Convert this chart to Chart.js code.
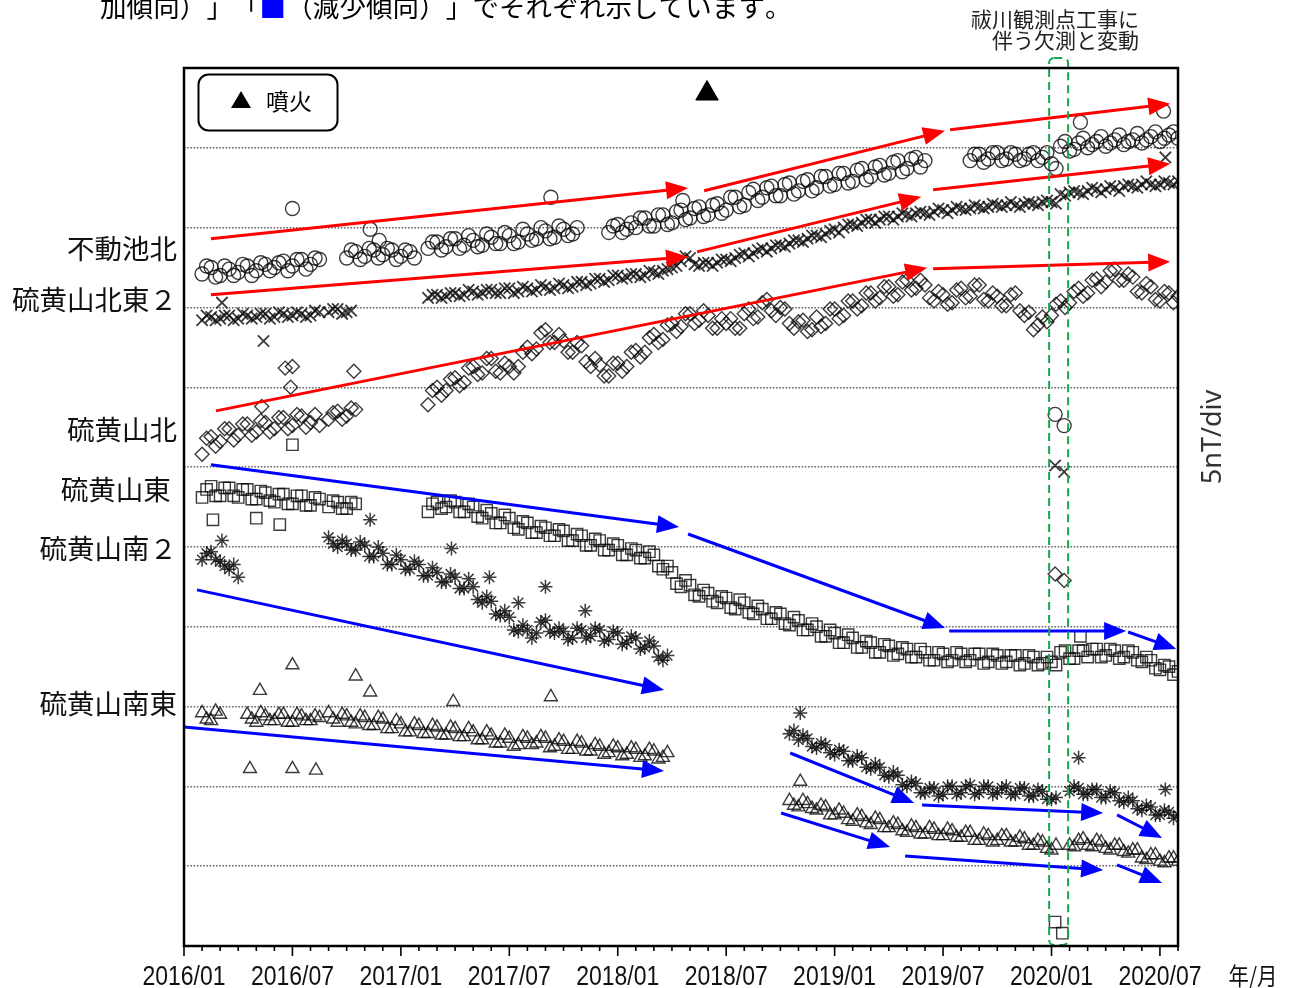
<!DOCTYPE html>
<html lang="ja">
<head>
<meta charset="utf-8">
<title>全磁力変化</title>
<script src="https://cdn.jsdelivr.net/npm/chart.js@4.4.1/dist/chart.umd.min.js"></script>
<style>
  html, body { margin: 0; padding: 0; background: #fff; }
  canvas { display: block; }
</style>
</head>
<body>
<canvas id="chart" width="1292" height="988" style="width:1292px;height:988px"></canvas>
<script>
// x = months since 2016/01, y = total field in nT (5 nT per grid division)
// two sampling grids: on the half month (A) and on the quarter in between (B)
const months = [
  0, 0.5, 1, 1.5, 2, 2.5, 3, 3.5, 4, 4.5,
  5, 5.5, 6, 6.5, 7, 7.5, 8, 8.5, 9, 9.5,
  10, 10.5, 11, 11.5, 12, 12.5, 13, 13.5, 14, 14.5,
  15, 15.5, 16, 16.5, 17, 17.5, 18, 18.5, 19, 19.5,
  20, 20.5, 21, 21.5, 22, 22.5, 23, 23.5, 24, 24.5,
  25, 25.5, 26, 26.5, 27, 27.5, 28, 28.5, 29, 29.5,
  30, 30.5, 31, 31.5, 32, 32.5, 33, 33.5, 34, 34.5,
  35, 35.5, 36, 36.5, 37, 37.5, 38, 38.5, 39, 39.5,
  40, 40.5, 41, 41.5, 42, 42.5, 43, 43.5, 44, 44.5,
  45, 45.5, 46, 46.5, 47, 47.5, 48, 48.5, 49, 49.5,
  50, 50.5, 51, 51.5, 52, 52.5, 53, 53.5, 54, 54.5,
  55
];
const monthsB = [
  0.25, 0.75, 1.25, 1.75, 2.25, 2.75, 3.25, 3.75, 4.25, 4.75,
  5.25, 5.75, 6.25, 6.75, 7.25, 7.75, 8.25, 8.75, 9.25, 9.75,
  10.25, 10.75, 11.25, 11.75, 12.25, 12.75, 13.25, 13.75, 14.25, 14.75,
  15.25, 15.75, 16.25, 16.75, 17.25, 17.75, 18.25, 18.75, 19.25, 19.75,
  20.25, 20.75, 21.25, 21.75, 22.25, 22.75, 23.25, 23.75, 24.25, 24.75,
  25.25, 25.75, 26.25, 26.75, 27.25, 27.75, 28.25, 28.75, 29.25, 29.75,
  30.25, 30.75, 31.25, 31.75, 32.25, 32.75, 33.25, 33.75, 34.25, 34.75,
  35.25, 35.75, 36.25, 36.75, 37.25, 37.75, 38.25, 38.75, 39.25, 39.75,
  40.25, 40.75, 41.25, 41.75, 42.25, 42.75, 43.25, 43.75, 44.25, 44.75,
  45.25, 45.75, 46.25, 46.75, 47.25, 47.75, 48.25, 48.75, 49.25, 49.75,
  50.25, 50.75, 51.25, 51.75, 52.25, 52.75, 53.25, 53.75, 54.25, 54.75
];
const tickLabels = ['2016/01', '2016/07', '2017/01', '2017/07', '2018/01',
                    '2018/07', '2019/01', '2019/07', '2020/01', '2020/07'];

// 不動池北
const fudoIkeKita = [
  null, null, 42.1, 42.5, 42.0, 42.4, 42.2, 42.6, 42.3, 42.7,
  42.5, 42.9, 42.6, 43.0, 42.7, 43.0, null, null, 43.1, 43.5,
  43.2, 43.6, 43.3, 43.6, 43.2, 43.5, null, 43.7, 44.1, 43.8,
  44.3, 43.9, 44.2, 43.9, 44.4, 44.0, 44.5, 44.1, 44.6, 44.3,
  44.8, 44.4, 44.9, 44.6, null, null, null, 44.7, 45.2, 44.9,
  45.0, 45.6, 45.1, 45.8, 45.3, 46.1, 45.6, 46.3, 45.8, 46.5,
  46.1, 46.9, 46.4, 47.4, 46.9, 47.6, 47.0, 47.8, 47.3, 48.0,
  47.5, 48.2, 47.7, 48.4, 47.9, 48.7, 48.2, 48.9, 48.4, 49.2,
  48.7, 49.4, 49.2, null, null, null, null, 49.2, 49.6, 49.3,
  49.7, 49.3, 49.6, 49.3, 49.7, 49.4, 49.0, 50.1, 49.8, 50.3,
  50.0, 50.4, 50.1, 50.5, 50.2, 50.5, 50.3, 50.7, 50.4, 50.8,
  50.6
];
const fudoIkeKitaB = [
  null, null, 42.6, 41.9, 42.6, 42.0, 42.7, 42.0, 42.8, 42.3,
  42.8, 42.3, 43.0, 42.4, 43.1, null, null, null, 43.6, 43.0,
  43.7, 43.1, 43.7, 43.0, 43.6, 43.1, null, 44.1, 43.6, 44.3,
  43.7, 44.5, 43.8, 44.6, 44.0, 44.7, 44.0, 44.9, 44.2, 45.0,
  44.3, 45.1, 44.5, 45.0, null, null, null, 45.1, 44.7, 45.3,
  45.6, 45.1, 45.8, 45.2, 46.0, 45.5, 46.2, 45.7, 46.4, 45.9,
  46.9, 46.3, 47.2, 46.7, 47.5, 47.0, 47.7, 47.1, 47.9, 47.3,
  48.2, 47.6, 48.4, 47.8, 48.6, 48.0, 48.8, 48.3, 49.1, 48.5,
  49.3, 48.8, null, null, null, null, null, 49.6, 49.1, 49.7,
  49.2, 49.7, 49.2, 49.6, 49.2, 49.7, 48.7, 50.4, 49.9, 50.6,
  50.2, 50.7, 50.3, 50.8, 50.4, 50.9, 50.5, 51.0, 50.6, 51.0
];
const fudoIkeKitaOut = [[6.0, 46.2], [10.3, 44.9], [10.8, 44.2], [20.3, 46.9], [27.6, 46.7],
                        [49.6, 51.6], [54.2, 52.3], [48.2, 33.3], [48.7, 32.6]];

// 硫黄山北東２
const iouHokuto2 = [
  null, null, 39.2, 39.4, 39.3, 39.5, 39.3, 39.5, 39.4, 39.6,
  39.4, 39.6, 39.5, 39.6, 39.5, 39.7, 39.7, 39.9, 39.7, null,
  null, null, null, null, null, null, null, 40.6, 40.8, 40.7,
  40.9, 40.8, 41.0, 40.9, 41.1, 40.9, 41.2, 41.0, 41.2, 41.1,
  41.3, 41.2, 41.4, 41.3, 41.6, 41.5, 41.8, 41.7, 42.0, 41.9,
  42.1, 42.0, 42.2, 42.3, 42.5, 42.9, 43.1, 42.6, 42.8, 42.8,
  43.0, 43.1, 43.4, 43.4, 43.7, 43.7, 43.9, 44.0, 44.2, 44.3,
  44.5, 44.6, 44.9, 45.0, 45.2, 45.3, 45.5, 45.5, 45.7, 45.7,
  45.8, 45.9, 45.9, 46.0, 46.1, 46.1, 46.2, 46.2, 46.3, 46.3,
  46.4, 46.4, 46.4, 46.5, 46.5, 46.6, 46.6, 47.1, 47.2, 47.2,
  47.3, 47.4, 47.4, 47.5, 47.6, 47.6, 47.7, 47.7, 47.7, 47.8,
  47.9
];
const iouHokuto2B = [
  null, null, 39.5, 39.2, 39.5, 39.2, 39.6, 39.3, 39.6, 39.3,
  39.7, 39.4, 39.7, 39.4, 39.8, null, 39.9, 39.6, 39.8, null,
  null, null, null, null, null, null, null, 40.8, 40.6, 40.9,
  40.7, 41.1, 40.8, 41.1, 40.9, 41.2, 40.9, 41.3, 41.0, 41.4,
  41.1, 41.5, 41.2, 41.6, 41.4, 41.8, 41.6, 42.0, 41.8, 42.1,
  41.9, 42.3, 42.1, 42.4, 42.6, 43.2, 42.7, 42.8, 42.6, 43.0,
  42.9, 43.3, 43.2, 43.6, 43.5, 43.9, 43.8, 44.2, 44.1, 44.5,
  44.4, 44.8, 44.7, 45.2, 45.1, 45.5, 45.3, 45.7, 45.5, 45.9,
  45.7, 46.0, 45.8, 46.2, 45.9, 46.3, 46.1, 46.4, 46.2, 46.5,
  46.3, 46.6, 46.3, 46.6, 46.4, 46.7, 46.5, 47.0, 47.3, 47.1,
  47.5, 47.2, 47.6, 47.3, 47.7, 47.5, 47.9, 47.6, 47.9, 47.7
];
const iouHokuto2Out = [[4.4, 37.9], [2.1, 40.3], [54.3, 49.4], [48.2, 30.1], [48.7, 29.7]];

// 硫黄山北
const iouKita = [
  null, null, 30.8, 31.9, 31.6, 32.4, 32.0, 32.7, 32.2, 32.8,
  32.4, 33.1, 32.6, 33.2, 32.8, 32.6, 33.0, 33.5, 33.2, 33.6,
  null, null, null, null, null, null, null, 33.9, 35.0, 34.8,
  35.6, 35.3, 36.3, 35.9, 36.8, 35.9, 36.3, 36.3, 37.5, 37.4,
  38.6, 37.8, 37.9, 37.2, 37.6, 36.3, 36.4, 35.7, 36.5, 36.3,
  37.3, 37.2, 38.3, 38.0, 39.0, 38.8, 39.6, 39.2, 39.5, 38.7,
  39.0, 38.7, 39.6, 39.3, 40.3, 39.8, 40.0, 39.0, 39.1, 38.5,
  39.4, 39.0, 39.9, 39.5, 40.4, 40.1, 40.9, 40.6, 41.3, 40.8,
  41.7, 41.2, 41.4, 40.4, 40.8, 40.3, 41.2, 40.7, 41.4, 40.4,
  40.7, 40.1, 40.9, 39.5, 38.6, 39.4, 39.5, 40.4, 40.3, 41.2,
  40.9, 41.8, 41.6, 42.4, 41.7, 41.9, 40.9, 41.3, 40.4, 40.9,
  40.7
];
const iouKitaB = [
  null, null, 31.8, 31.3, 32.4, 31.7, 32.7, 32.0, 32.9, 32.2,
  33.1, 32.4, 33.3, 32.5, 33.3, null, 33.4, 33.0, 33.7, null,
  null, null, null, null, null, null, null, 34.8, 34.5, 35.5,
  35.1, 36.2, 35.8, 36.8, 36.0, 36.5, 35.9, 37.2, 37.1, 38.4,
  37.8, 38.3, 37.2, 37.8, 36.6, 36.8, 35.7, 36.5, 36.0, 37.2,
  36.9, 38.1, 37.8, 38.9, 38.5, 39.6, 39.0, 39.8, 38.7, 39.3,
  39.3, 38.7, 39.9, 39.4, 40.5, 39.5, 39.9, 38.7, 39.2, 38.6,
  38.8, 39.9, 39.3, 40.4, 39.9, 40.9, 40.4, 41.3, 40.7, 41.6,
  41.1, 41.7, 40.6, 41.0, 40.2, 41.1, 40.6, 41.4, 40.5, 40.9,
  40.1, 40.8, 39.8, 39.7, 38.9, 39.1, 40.2, 40.0, 41.0, 40.7,
  41.7, 41.3, 42.3, 41.7, 42.1, 41.0, 41.5, 40.5, 41.0, 40.3
];
const iouKitaOut = [[5.6, 36.2], [6.0, 36.3], [5.9, 35.0], [4.3, 33.8], [9.4, 36.0],
                    [48.2, 23.3], [48.7, 22.9]];

// 硫黄山東
const iouHigashi = [
  null, null, 28.1, 28.8, 28.2, 28.7, 28.1, 28.6, 28.0, 28.4,
  27.8, 28.3, 27.7, 28.2, 27.6, 28.0, 27.5, 27.8, 27.4, 27.7,
  null, null, null, null, null, null, null, 27.2, 27.8, 27.5,
  27.8, 27.2, 27.5, 26.8, 27.1, 26.5, 26.8, 26.1, 26.5, 25.9,
  26.2, 25.7, 26.0, 25.4, 25.7, 25.1, 25.4, 24.8, 25.1, 24.5,
  24.8, 24.3, 24.5, 23.6, 23.4, 22.5, 22.6, 21.9, 22.1, 21.5,
  21.8, 21.1, 21.5, 20.8, 21.1, 20.5, 20.8, 20.1, 20.4, 19.8,
  20.0, 19.4, 19.6, 19.0, 19.3, 18.7, 19.0, 18.4, 18.8, 18.3,
  18.6, 18.1, 18.4, 17.9, 18.3, 17.9, 18.3, 17.9, 18.3, 17.8,
  18.2, 17.8, 18.2, 17.7, 18.1, 17.7, 17.8, 18.4, 18.0, 18.5,
  18.1, 18.6, 18.2, 18.5, 18.1, 18.4, 17.8, 17.9, 17.3, 17.5,
  17.2
];
const iouHigashiB = [
  null, null, 28.6, 28.2, 28.7, 28.2, 28.6, 28.0, 28.5, 27.9,
  28.3, 27.7, 28.2, 27.6, 28.1, null, 27.9, 27.4, 27.8, null,
  null, null, null, null, null, null, null, 27.7, 27.4, 27.9,
  27.2, 27.7, 26.9, 27.3, 26.5, 27.0, 26.2, 26.6, 25.9, 26.3,
  25.7, 26.1, 25.4, 25.8, 25.1, 25.5, 24.8, 25.2, 24.5, 24.9,
  24.3, 24.7, 23.8, 23.8, 22.7, 22.9, 22.0, 22.3, 21.6, 21.9,
  21.2, 21.7, 20.9, 21.3, 20.5, 20.9, 20.2, 20.6, 19.8, 20.2,
  19.4, 19.8, 19.0, 19.5, 18.7, 19.1, 18.4, 18.9, 18.2, 18.7,
  18.1, 18.6, 17.9, 18.4, 17.8, 18.4, 17.8, 18.3, 17.7, 18.3,
  17.7, 18.2, 17.6, 18.2, 17.6, 18.1, 17.6, 18.5, 18.0, 18.5,
  18.6, 18.1, 18.6, 18.0, 18.5, 17.9, 18.1, 17.4, 17.6, 17.0
];
const iouHigashiOut = [[1.6, 26.7], [4.0, 26.8], [5.3, 26.4], [6.0, 31.4],
                       [49.6, 19.4], [48.2, 1.5], [48.6, 0.8]];

// 硫黄山南２
const iouMinami2 = [
  null, null, 24.2, 24.7, 24.1, 23.6, 23.1, null, null, null,
  null, null, null, null, null, null, 25.6, 25.0, 25.2, 24.8,
  25.1, 24.4, 24.6, 23.9, 24.2, 23.6, 23.9, 23.2, 23.4, 22.8,
  23.1, 22.4, 22.5, 21.5, 21.6, 20.7, 20.6, 19.7, 19.8, 19.6,
  20.4, 19.6, 19.7, 19.3, 19.8, 19.4, 19.8, 19.2, 19.6, 19.0,
  19.3, 18.7, 18.8, 17.9
];
const iouMinami2B = [
  null, null, 24.6, 24.2, 23.8, 23.9, null, null, null, null,
  null, null, null, null, null, null, 25.2, 25.4, 24.8, 25.3,
  24.4, 25.0, 23.9, 24.5, 23.6, 24.1, 23.2, 23.7, 22.8, 23.3,
  22.4, 23.0, 21.7, 21.9, 20.8, 21.0, 19.8, 20.1, 19.3, 20.3,
  19.7, 19.9, 19.2, 19.9, 19.3, 19.9, 19.1, 19.7, 18.9, 19.4,
  18.6, 19.1, 18.1, 18.2
];
const iouMinami2Out = [[2.1, 25.4], [10.3, 26.7], [14.8, 24.9], [16.9, 23.1], [18.5, 21.5],
                       [20.0, 22.5], [22.2, 21.0]];

// 硫黄山南東
const iouNanto = [
  null, null, 14.6, 14.1, 14.5, null, null, 14.5, 14.0, 14.4,
  14.1, 14.5, 14.0, 14.4, 14.1, 14.3, 14.6, 14.0, 14.4, 13.9,
  14.3, 13.8, 14.2, 13.6, 13.9, 13.4, 13.8, 13.3, 13.7, 13.2,
  13.6, 13.1, 13.4, 12.9, 13.2, 12.7, 13.0, 12.6, 13.0, 12.7,
  13.0, 12.5, 12.8, 12.3, 12.7, 12.2, 12.5, 12.1, 12.4, 12.0,
  12.3, 11.9, 12.2, 11.8
];
const iouNantoB = [
  null, null, 14.2, 14.7, null, null, null, 14.2, 14.6, 14.1,
  14.5, 14.0, 14.5, 14.1, 14.4, null, 14.2, 14.5, 14.0, 14.4,
  13.8, 14.3, 13.6, 14.1, 13.4, 13.9, 13.3, 13.8, 13.2, 13.7,
  13.1, 13.6, 12.9, 13.4, 12.7, 13.2, 12.5, 13.1, 12.6, 13.1,
  12.4, 12.9, 12.3, 12.8, 12.2, 12.6, 12.0, 12.5, 11.9, 12.4,
  11.8, 12.3, 11.7, 12.1
];
const iouNantoOut = [[6.0, 17.6], [9.5, 16.9], [10.3, 15.9], [4.2, 16.0], [3.65, 11.1],
                     [6.0, 11.1], [7.3, 11.0], [14.9, 15.3], [20.3, 15.6]];

// 硫黄山南２ / 硫黄山南東 (2018/10 以降)
const iouMinami2After = [
  null, null, null, null, null, null, null, null, null, null,
  null, null, null, null, null, null, null, null, null, null,
  null, null, null, null, null, null, null, null, null, null,
  null, null, null, null, null, null, null, null, null, null,
  null, null, null, null, null, null, null, null, null, null,
  null, null, null, null, null, null, null, null, null, null,
  null, null, null, null, null, null, null, 13.3, 12.9, 13.0,
  12.4, 12.6, 12.0, 12.2, 11.6, 11.8, 11.1, 11.2, 10.6, 10.7,
  10.0, 10.2, 9.6, 9.9, 9.5, 10.0, 9.6, 10.1, 9.6, 10.0,
  9.6, 10.0, 9.5, 9.9, 9.4, 9.7, 9.2, null, 9.7, 9.9,
  9.5, 9.8, 9.3, 9.6, 9.0, 9.1, 8.5, 8.7, 8.2, 8.4,
  8.2
];
const iouMinami2AfterB = [
  null, null, null, null, null, null, null, null, null, null,
  null, null, null, null, null, null, null, null, null, null,
  null, null, null, null, null, null, null, null, null, null,
  null, null, null, null, null, null, null, null, null, null,
  null, null, null, null, null, null, null, null, null, null,
  null, null, null, null, null, null, null, null, null, null,
  null, null, null, null, null, null, null, 13.5, 13.2, 12.5,
  12.7, 12.1, 12.3, 11.6, 11.9, 11.2, 11.4, 10.7, 10.9, 10.1,
  10.3, 9.6, 9.9, 9.4, 10.0, 9.5, 10.0, 9.5, 10.0, 9.5,
  9.9, 9.5, 9.9, 9.4, 9.8, 9.2, 9.3, null, 10.0, 9.5,
  9.8, 9.3, 9.7, 9.1, 9.3, 8.6, 8.8, 8.2, 8.5, 8.0
];
const iouMinami2AfterOut = [[34.1, 14.6], [49.5, 11.8], [54.3, 9.8]];

const iouNantoAfter = [
  null, null, null, null, null, null, null, null, null, null,
  null, null, null, null, null, null, null, null, null, null,
  null, null, null, null, null, null, null, null, null, null,
  null, null, null, null, null, null, null, null, null, null,
  null, null, null, null, null, null, null, null, null, null,
  null, null, null, null, null, null, null, null, null, null,
  null, null, null, null, null, null, null, 9.1, 8.7, 8.9,
  8.5, 8.7, 8.2, 8.3, 7.8, 8.1, 7.6, 7.9, 7.4, 7.6,
  7.1, 7.4, 7.0, 7.3, 6.9, 7.2, 6.8, 7.1, 6.6, 6.9,
  6.6, 6.9, 6.5, 6.7, 6.3, 6.5, 6.0, null, 6.3, 6.6,
  6.3, 6.6, 6.1, 6.3, 5.9, 6.0, 5.5, 5.7, 5.3, 5.5,
  5.3
];
const iouNantoAfterB = [
  null, null, null, null, null, null, null, null, null, null,
  null, null, null, null, null, null, null, null, null, null,
  null, null, null, null, null, null, null, null, null, null,
  null, null, null, null, null, null, null, null, null, null,
  null, null, null, null, null, null, null, null, null, null,
  null, null, null, null, null, null, null, null, null, null,
  null, null, null, null, null, null, null, 8.8, 9.1, 8.6,
  8.8, 8.2, 8.5, 7.9, 8.2, 7.7, 8.0, 7.4, 7.7, 7.2,
  7.5, 7.0, 7.4, 6.9, 7.3, 6.8, 7.1, 6.6, 7.0, 6.5,
  6.9, 6.5, 6.8, 6.3, 6.6, 6.1, 6.3, null, 6.2, 6.7,
  6.2, 6.5, 6.0, 6.3, 5.8, 6.0, 5.4, 5.7, 5.2, 5.5
];
const iouNantoAfterOut = [[34.1, 10.3]];

// 噴火 (2018/04)
const eruptionMonths = [28.94];
const eruptionLevels = [53.4];

// trend arrows [month0, nT0, month1, nT1]
const redArrows = [
  [1.49, 44.30, 27.89, 47.49], [28.78, 47.31, 42.11, 51.07], [42.39, 51.13, 54.57, 52.76],
  [1.49, 40.79, 27.89, 43.17], [28.39, 43.48, 40.79, 46.93], [41.45, 47.37, 54.57, 49.00],
  [1.77, 33.52, 41.12, 42.48], [41.45, 42.42, 54.57, 42.86]
];
const blueArrows = [
  [1.49, 30.14, 27.39, 26.25], [27.89, 25.81, 42.11, 19.92], [42.34, 19.74, 52.13, 19.74],
  [52.24, 19.67, 54.90, 18.61], [0.72, 22.31, 26.56, 16.04], [0.00, 13.72, 26.56, 10.96],
  [33.54, 12.09, 40.40, 8.96], [40.84, 8.83, 50.86, 8.33], [51.63, 8.21, 54.12, 6.77],
  [33.04, 8.33, 39.07, 6.20], [39.90, 5.64, 50.86, 4.76], [51.63, 5.08, 54.12, 3.95]
];

// 祓川観測点工事の期間 (months)
const gapMonths = [47.87, 48.92];

const stationNames = ['不動池北', '硫黄山北東２', '硫黄山北', '硫黄山東 ', '硫黄山南２', '硫黄山南東'];
const stationLabelLevels = [43.67, 40.48, 32.33, 28.57, 24.87, 15.16];

const CJK = '"Noto Sans CJK JP", sans-serif';
const ink = 'rgba(10,10,10,0.8)';

function toPoints(valsA, valsB, extra) {
  const pts = [];
  valsA.forEach((v, i) => { if (v !== null) pts.push({ x: months[i], y: v }); });
  valsB.forEach((v, i) => { if (v !== null) pts.push({ x: monthsB[i], y: v }); });
  (extra || []).forEach(p => pts.push({ x: p[0], y: p[1] }));
  return pts;
}

const seriesDefs = [
  { label: '不動池北', a: fudoIkeKita, b: fudoIkeKitaB, extra: fudoIkeKitaOut, style: 'circle', r: 7, w: 1.4 },
  { label: '硫黄山北東２', a: iouHokuto2, b: iouHokuto2B, extra: iouHokuto2Out, style: 'crossRot', r: 8, w: 1.8 },
  { label: '硫黄山北', a: iouKita, b: iouKitaB, extra: iouKitaOut, style: 'rectRot', r: 7, w: 1.4 },
  { label: '硫黄山東', a: iouHigashi, b: iouHigashiB, extra: iouHigashiOut, style: 'rect', r: 8, w: 1.4 },
  { label: '硫黄山南２', a: iouMinami2, b: iouMinami2B, extra: iouMinami2Out, style: 'star', r: 7, w: 1.5 },
  { label: '硫黄山南東', a: iouNanto, b: iouNantoB, extra: iouNantoOut, style: 'triangle', r: 7.5, w: 1.4 },
  { label: '硫黄山南２(2018/10-)', a: iouMinami2After, b: iouMinami2AfterB, extra: iouMinami2AfterOut, style: 'star', r: 7, w: 1.5 },
  { label: '硫黄山南東(2018/10-)', a: iouNantoAfter, b: iouNantoAfterB, extra: iouNantoAfterOut, style: 'triangle', r: 7.5, w: 1.4 }
];

const datasets = seriesDefs.map(s => ({
  type: 'scatter',
  label: s.label,
  data: toPoints(s.a, s.b, s.extra),
  pointStyle: s.style,
  pointRadius: s.r,
  pointBorderColor: ink,
  pointBackgroundColor: 'rgba(0,0,0,0)',
  pointBorderWidth: s.w
}));
datasets.push({
  type: 'scatter',
  label: '噴火',
  data: eruptionMonths.map((m, i) => ({ x: m, y: eruptionLevels[i] })),
  pointStyle: 'triangle',
  pointRadius: 13,
  pointBackgroundColor: '#000',
  pointBorderColor: '#000',
  pointBorderWidth: 1
});

function drawArrow(ctx, x0, y0, x1, y1, color) {
  const ang = Math.atan2(y1 - y0, x1 - x0);
  const hl = 22, hw = 9;
  const c = Math.cos(ang), s = Math.sin(ang);
  const bx = x1 - hl * c, by = y1 - hl * s;
  ctx.strokeStyle = color;
  ctx.fillStyle = color;
  ctx.lineWidth = 3;
  ctx.lineCap = 'butt';
  ctx.beginPath();
  ctx.moveTo(x0, y0);
  ctx.lineTo(bx + 3 * c, by + 3 * s);
  ctx.stroke();
  ctx.beginPath();
  ctx.moveTo(x1, y1);
  ctx.lineTo(bx - hw * s, by + hw * c);
  ctx.lineTo(bx + hw * s, by - hw * c);
  ctx.closePath();
  ctx.fill();
}

function roundRectPath(ctx, x, y, w, h, r) {
  ctx.beginPath();
  ctx.moveTo(x + r, y);
  ctx.lineTo(x + w - r, y);
  ctx.arcTo(x + w, y, x + w, y + r, r);
  ctx.lineTo(x + w, y + h - r);
  ctx.arcTo(x + w, y + h, x + w - r, y + h, r);
  ctx.lineTo(x + r, y + h);
  ctx.arcTo(x, y + h, x, y + h - r, r);
  ctx.lineTo(x, y + r);
  ctx.arcTo(x, y, x + r, y, r);
  ctx.closePath();
}

// fixed-pitch CJK text (avoids punctuation trimming)
function fillPitched(ctx, text, x, yy, pitch, colors) {
  [...text].forEach((ch, i) => {
    ctx.fillStyle = (colors && colors[ch]) || '#000';
    ctx.fillText(ch, x + i * pitch, yy);
  });
}

// narrow (condensed) text: horizontal squeeze
function fillNarrow(ctx, text, x, yy, sx) {
  ctx.save();
  ctx.translate(x, yy);
  ctx.scale(sx, 1);
  ctx.fillText(text, 0, 0);
  ctx.restore();
}

const decor = {
  id: 'decor',
  afterDatasetsDraw(chart) {
    const { ctx, chartArea: a, scales: { x, y } } = chart;
    ctx.save();
    redArrows.forEach(r => drawArrow(ctx, x.getPixelForValue(r[0]), y.getPixelForValue(r[1]),
      x.getPixelForValue(r[2]), y.getPixelForValue(r[3]), '#ff0000'));
    blueArrows.forEach(r => drawArrow(ctx, x.getPixelForValue(r[0]), y.getPixelForValue(r[1]),
      x.getPixelForValue(r[2]), y.getPixelForValue(r[3]), '#0000ff'));

    // 欠測期間の枠
    const gx0 = x.getPixelForValue(gapMonths[0]), gx1 = x.getPixelForValue(gapMonths[1]);
    ctx.setLineDash([8, 5]);
    ctx.strokeStyle = '#13a84a';
    ctx.lineWidth = 2;
    roundRectPath(ctx, gx0, a.top - 10, gx1 - gx0, a.bottom - a.top + 9, 5);
    ctx.stroke();
    ctx.setLineDash([]);

    // frame
    ctx.strokeStyle = '#000';
    ctx.lineWidth = 2.5;
    ctx.strokeRect(a.left, a.top, a.right - a.left, a.bottom - a.top);

    // month ticks under the axis
    ctx.lineWidth = 1.6;
    for (let m = 0; m <= 55; m++) {
      const px = x.getPixelForValue(m);
      ctx.beginPath();
      ctx.moveTo(px, a.bottom);
      ctx.lineTo(px, a.bottom + (m % 6 === 0 ? 10 : 5));
      ctx.stroke();
    }

    // tick labels every 6 months
    ctx.fillStyle = '#111';
    ctx.font = '28px "Liberation Sans", Arial, sans-serif';
    ctx.textAlign = 'center';
    ctx.textBaseline = 'alphabetic';
    tickLabels.forEach((lbl, i) => fillNarrow(ctx, lbl, x.getPixelForValue(i * 6), a.bottom + 39, 0.82));

    // legend box
    ctx.lineWidth = 2;
    ctx.strokeStyle = '#000';
    roundRectPath(ctx, a.left + 14.5, a.top + 6.5, 139, 56, 10);
    ctx.fillStyle = '#fff';
    ctx.fill();
    ctx.stroke();
    ctx.fillStyle = '#000';
    ctx.beginPath();
    ctx.moveTo(a.left + 57, a.top + 23);
    ctx.lineTo(a.left + 67, a.top + 40);
    ctx.lineTo(a.left + 47, a.top + 40);
    ctx.closePath();
    ctx.fill();
    ctx.font = '23px ' + CJK;
    ctx.textAlign = 'left';
    ctx.textBaseline = 'middle';
    ctx.fillText('噴火', a.left + 82, a.top + 33);
    ctx.restore();
  },
  afterDraw(chart) {
    const { ctx, chartArea: a, scales: { y } } = chart;
    ctx.save();
    ctx.fillStyle = '#111';

    // station labels
    ctx.font = '27.5px ' + CJK;
    ctx.textAlign = 'right';
    ctx.textBaseline = 'middle';
    stationNames.forEach((n, i) => ctx.fillText(n, a.left - 7, y.getPixelForValue(stationLabelLevels[i])));

    // caption (top, cut by the page edge)
    ctx.font = '26.5px ' + CJK;
    ctx.textAlign = 'left';
    ctx.textBaseline = 'alphabetic';
    fillPitched(ctx, '加傾向）」「■（減少傾向）」でそれぞれ示しています。', 100, 17, 26.6, { '■': '#0000ff' });

    // note about the gap
    ctx.fillStyle = '#222';
    ctx.font = '21px ' + CJK;
    ctx.textAlign = 'right';
    ctx.textBaseline = 'middle';
    ctx.fillText('祓川観測点工事に', 1139, 19);
    ctx.fillText('伴う欠測と変動', 1139, 40);

    // unit
    ctx.save();
    ctx.translate(a.right + 35, 437);
    ctx.rotate(-Math.PI / 2);
    ctx.textAlign = 'center';
    ctx.font = '27px "Noto Sans", sans-serif';
    ctx.fillStyle = '#333';
    ctx.fillText('5nT/div', 0, 0);
    ctx.restore();

    // axis unit
    ctx.font = '24px ' + CJK;
    ctx.textAlign = 'center';
    ctx.textBaseline = 'alphabetic';
    ctx.fillStyle = '#111';
    fillNarrow(ctx, '年/月', 1253, 985, 0.85);
    ctx.restore();
  }
};

function draw() {
  new Chart(document.getElementById('chart'), {
    type: 'scatter',
    data: { datasets },
    options: {
      responsive: false,
      animation: false,
      events: [],
      layout: { padding: { left: 184, right: 114, top: 68, bottom: 0 } },
      plugins: { legend: { display: false }, tooltip: { enabled: false } },
      scales: {
        x: {
          type: 'linear', min: 0, max: 55,
          afterFit: s => { s.height = 42; },
          grid: { display: false },
          border: { display: false },
          ticks: { display: false, stepSize: 1 }
        },
        y: {
          min: 0, max: 55,
          afterFit: s => { s.width = 0; },
          ticks: { display: false, stepSize: 5 },
          grid: {
            drawTicks: false,
            lineWidth: 1.4,
            color: c => (c.tick && c.tick.value > 0 && c.tick.value < 55) ? '#6a6a6a' : 'rgba(0,0,0,0)'
          },
          border: { display: false, dash: [1.6, 1.6] }
        }
      }
    },
    plugins: [decor]
  });
}

Promise.all([
  document.fonts.load('26px "Noto Sans CJK JP"'),
  document.fonts.load('27px "Noto Sans"'),
  document.fonts.load('28px "Liberation Sans"')
]).then(draw, draw);
</script>
</body>
</html>
